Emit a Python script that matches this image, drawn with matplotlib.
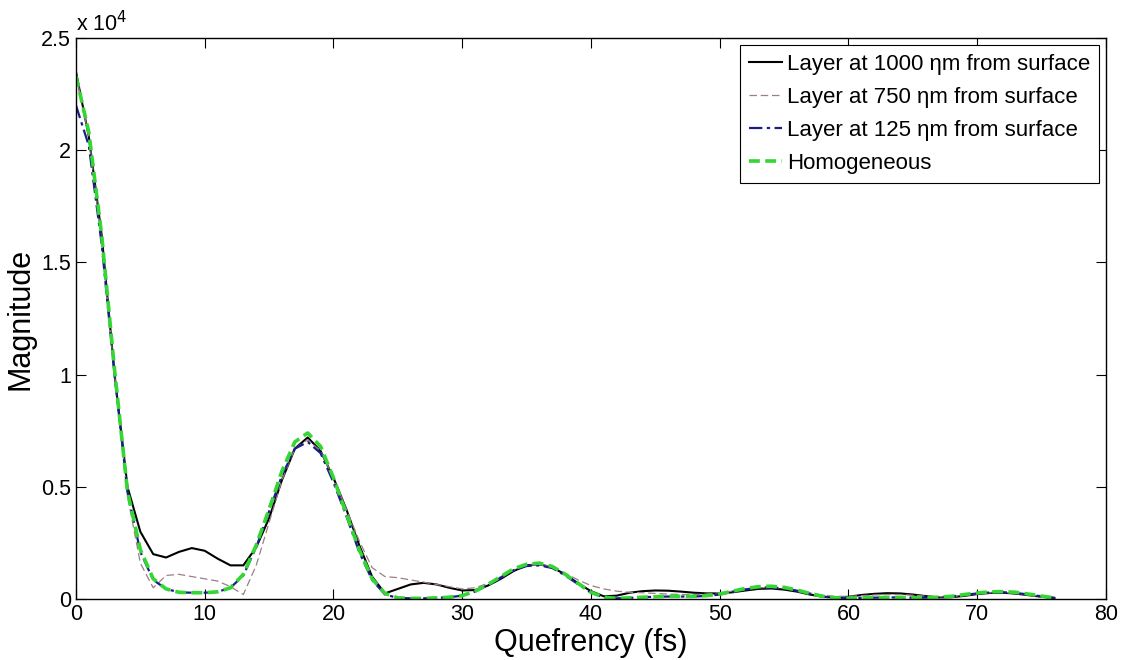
import numpy as np
import matplotlib.pyplot as plt
from matplotlib.ticker import FuncFormatter

# quefrency axis (fs), one sample per unit
quefrency = list(range(0, 77))

# magnitudes in units of 1000
layer_1000 = [23.5, 20.6, 16.2, 10.0, 5.0, 3.0, 2.0, 1.85, 2.1, 2.27,
              2.15, 1.8, 1.5, 1.5, 2.3, 3.6, 5.3, 6.7, 7.2, 6.6,
              5.4, 4.0, 2.4, 1.0, 0.25, 0.45, 0.65, 0.72, 0.65, 0.5,
              0.38, 0.4, 0.6, 0.9, 1.25, 1.5, 1.55, 1.4, 1.1, 0.7,
              0.35, 0.12, 0.15, 0.28, 0.35, 0.38, 0.37, 0.33, 0.28, 0.25,
              0.25, 0.3, 0.38, 0.45, 0.47, 0.42, 0.33, 0.2, 0.1, 0.06,
              0.1, 0.18, 0.23, 0.26, 0.25, 0.2, 0.13, 0.07, 0.08, 0.14,
              0.22, 0.27, 0.28, 0.24, 0.17, 0.1, 0.05]

layer_750 = [23.4, 20.6, 16.0, 10.0, 4.6, 1.6, 0.5, 1.05, 1.1, 1.0,
             0.9, 0.8, 0.55, 0.2, 1.5, 3.4, 5.3, 6.7, 7.1, 6.6,
             5.4, 4.0, 2.6, 1.4, 1.0, 0.95, 0.85, 0.75, 0.65, 0.55,
             0.45, 0.5, 0.7, 1.0, 1.3, 1.5, 1.55, 1.45, 1.15, 0.85,
             0.6, 0.45, 0.35, 0.3, 0.28, 0.25, 0.22, 0.2, 0.2, 0.22,
             0.28, 0.35, 0.43, 0.5, 0.52, 0.47, 0.38, 0.27, 0.17, 0.12,
             0.12, 0.15, 0.18, 0.2, 0.2, 0.17, 0.13, 0.1, 0.11, 0.17,
             0.23, 0.28, 0.3, 0.26, 0.19, 0.12, 0.06]

layer_125 = [22.0, 20.2, 15.8, 10.0, 4.8, 2.1, 0.85, 0.45, 0.3, 0.28,
             0.28, 0.32, 0.5, 1.05, 2.3, 3.9, 5.5, 6.7, 7.0, 6.5,
             5.2, 3.7, 2.1, 0.85, 0.2, 0.05, 0.03, 0.03, 0.05, 0.08,
             0.15, 0.33, 0.62, 0.95, 1.28, 1.47, 1.5, 1.38, 1.05, 0.66,
             0.28, 0.07, 0.03, 0.05, 0.08, 0.1, 0.11, 0.11, 0.11, 0.14,
             0.2, 0.32, 0.43, 0.5, 0.52, 0.47, 0.37, 0.23, 0.11, 0.05,
             0.04, 0.05, 0.06, 0.07, 0.07, 0.06, 0.06, 0.08, 0.11, 0.18,
             0.25, 0.29, 0.3, 0.27, 0.2, 0.12, 0.05]

homogeneous = [23.3, 20.8, 16.2, 10.2, 4.8, 2.2, 0.9, 0.45, 0.3, 0.28,
               0.28, 0.32, 0.5, 1.1, 2.4, 4.0, 5.7, 7.0, 7.4, 6.8,
               5.4, 3.8, 2.2, 0.9, 0.25, 0.05, 0.03, 0.03, 0.05, 0.08,
               0.15, 0.35, 0.65, 1.0, 1.35, 1.55, 1.6, 1.45, 1.1, 0.7,
               0.3, 0.08, 0.03, 0.05, 0.08, 0.1, 0.12, 0.12, 0.12, 0.15,
               0.22, 0.35, 0.47, 0.55, 0.57, 0.52, 0.4, 0.25, 0.12, 0.05,
               0.04, 0.05, 0.06, 0.07, 0.07, 0.06, 0.06, 0.08, 0.12, 0.2,
               0.27, 0.32, 0.33, 0.3, 0.22, 0.13, 0.05]

labels = ["Layer at 1000 \u03b7m from surface",
          "Layer at 750 \u03b7m from surface",
          "Layer at 125 \u03b7m from surface",
          "Homogeneous"]

plt.rcParams['font.family'] = ['Liberation Sans', 'DejaVu Sans']

fig = plt.figure(figsize=(11.22, 6.6), dpi=100)
ax = fig.add_axes([0.0677, 0.0924, 0.918, 0.850])

q = np.array(quefrency)
ax.plot(q, np.array(layer_1000) * 1000, color='black', lw=1.5, label=labels[0])
ax.plot(q, np.array(layer_750) * 1000, color='#9a7f84', lw=0.9,
        dashes=(6, 3), label=labels[1])
ax.plot(q, np.array(layer_125) * 1000, color='#1c1c8a', lw=1.6,
        dashes=(6, 2, 1.5, 2), label=labels[2])
ax.plot(q, np.array(homogeneous) * 1000, color='#33d633', lw=2.6,
        dashes=(3, 1.5), label=labels[3])

ax.set_xlim(0, 80)
ax.set_ylim(0, 25000)
ax.set_xticks(range(0, 81, 10))
ax.set_yticks(np.arange(0, 25001, 5000))
ax.yaxis.set_major_formatter(FuncFormatter(lambda v, p: f"{v / 1e4:g}"))
ax.tick_params(direction='in', top=True, right=True, labelsize=15.5, length=7)
for s in ax.spines.values():
    s.set_linewidth(1.0)

ax.text(0.0, 1.004, "x 10$^4$", transform=ax.transAxes, fontsize=15.5,
        ha='left', va='bottom')

ax.set_xlabel("Quefrency (fs)", fontsize=22, labelpad=2)
ax.set_ylabel("Magnitude", fontsize=22, labelpad=4)

leg = ax.legend(loc='upper right', fontsize=16, handlelength=1.45,
                handletextpad=0.25, borderaxespad=0.3, borderpad=0.4,
                labelspacing=0.55, fancybox=False, framealpha=1)
leg.get_frame().set_edgecolor('black')
leg.get_frame().set_linewidth(0.8)

fig.savefig("out.png", dpi=100)
